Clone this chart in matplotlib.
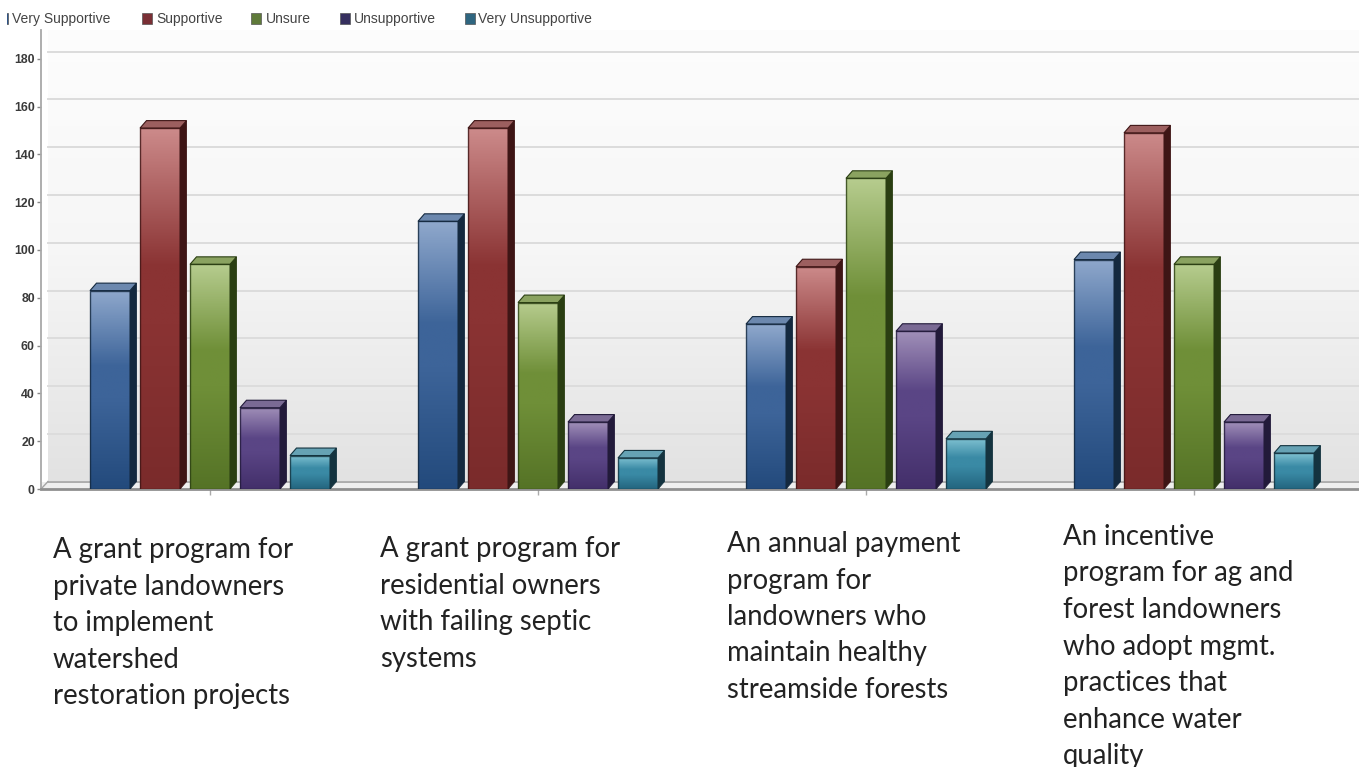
import numpy as np
import matplotlib
matplotlib.use("Agg")
import matplotlib.pyplot as plt
from matplotlib.colors import LinearSegmentedColormap
from matplotlib.patches import Polygon, Rectangle

W, H = 1359, 767

# Survey responses per program
response_levels = ["Very Supportive", "Supportive", "Unsure", "Unsupportive", "Very Unsupportive"]
very_supportive = [83, 112, 69, 96]
supportive = [151, 151, 93, 149]
unsure = [94, 78, 130, 94]
unsupportive = [34, 28, 66, 28]
very_unsupportive = [14, 13, 21, 15]
y_ticks = list(range(0, 200, 20))
program_captions = [
    "A grant program for\nprivate landowners\nto implement\nwatershed\nrestoration projects",
    "A grant program for\nresidential owners\nwith failing septic\nsystems",
    "An annual payment\nprogram for\nlandowners who\nmaintain healthy\nstreamside forests",
    "An incentive\nprogram for ag and\nforest landowners\nwho adopt mgmt.\npractices that\nenhance water\nquality",
]
caption_anchor_px = [(53, 537), (380, 536), (727, 531), (1063, 524)]

# (top, middle, bottom, side, cap, swatch) shades for each response level
palettes = [
    ("#8fa8cc", "#3d6499", "#234a7c", "#14293f", "#6c88ae", "#2f5488"),
    ("#cc8a8a", "#8a3333", "#7a2b2b", "#3e1515", "#9c5f5f", "#7a2f35"),
    ("#b6cc8e", "#6f8f38", "#557326", "#2a3e12", "#8aa260", "#5f7a3a"),
    ("#a08fb8", "#5a4585", "#432f6a", "#221a3a", "#7a6a94", "#36305f"),
    ("#80c2d2", "#3a8aa5", "#23657f", "#14333f", "#66a2b4", "#2f6680"),
]
series = [very_supportive, supportive, unsure, unsupportive, very_unsupportive]

fig = plt.figure(figsize=(W / 100, H / 100), dpi=100, facecolor="white")

# The axes cover the plot box in pixel terms: zero sits on the floor line
px_per_unit = 2.39
ax_left, ax_right, ax_top, ax_bottom = 41, 1359, 30, 489
ax = fig.add_axes([ax_left / W, 1 - ax_bottom / H, (ax_right - ax_left) / W, (ax_bottom - ax_top) / H])
group_px = 328.0
first_center = 210.0
ax.set_xlim((ax_left - first_center) / group_px, (ax_right - first_center) / group_px)
ax.set_ylim(0, (ax_bottom - ax_top) / px_per_unit)
ymax = ax.get_ylim()[1]
xl = ax.get_xlim()

dx = 6.5 / group_px          # depth of the extrusion, horizontal
dy = 7.5 / px_per_unit       # depth of the extrusion, vertical
bar_w = 40.0 / group_px
bar_step = 50.0 / group_px

# Back wall with a soft vertical fade
wall = LinearSegmentedColormap.from_list("wall", ["#fdfdfd", "#f6f6f6", "#e2e2e2"])
ax.imshow(np.linspace(0, 1, 256)[:, None], cmap=wall, aspect="auto", zorder=0,
          extent=(xl[0] + 7 / group_px, xl[1], dy, ymax))
ax.set_xlim(xl)
ax.set_ylim(0, ymax)
ax.add_patch(Rectangle((xl[0], 0), xl[1] - xl[0], dy, fc="#efefef", ec="none", zorder=0.5))

# Gridlines lie on the wall, shifted back by the depth
for v in y_ticks[1:]:
    ax.plot([xl[0] + 7 / group_px, xl[1]], [v + 3.0, v + 3.0], color="#dcdcdc", lw=1.4, zorder=1)
ax.plot([xl[0] + 7 / group_px, xl[1]], [dy, dy], color="#9a9a9a", lw=1.1, zorder=1)
ax.plot([xl[0] + 7 / group_px, xl[0]], [dy, 0], color="#a5a5a5", lw=1.0, zorder=1)


def draw_bar(x0, value, shades):
    top, mid, bottom, side, cap, _ = shades
    cmap = LinearSegmentedColormap.from_list("b", [(0, bottom), (0.45, mid), (0.62, mid), (1, top)])
    face = np.linspace(1, 0, 128)[:, None]
    ax.imshow(face, cmap=cmap, aspect="auto", zorder=3, extent=(x0, x0 + bar_w, 0, value), vmin=0, vmax=1)
    ax.add_patch(Rectangle((x0, 0), bar_w, value, fc="none", ec=side, lw=1.0, alpha=0.8, zorder=4))
    ax.add_patch(Polygon([(x0 + bar_w, 0), (x0 + bar_w + dx, dy), (x0 + bar_w + dx, value + dy), (x0 + bar_w, value)],
                         closed=True, fc=side, ec=side, lw=0.6, zorder=3))
    ax.add_patch(Polygon([(x0, value), (x0 + dx, value + dy), (x0 + bar_w + dx, value + dy), (x0 + bar_w, value)],
                         closed=True, fc=cap, ec=side, lw=0.8, zorder=3))


for s, (vals, shades) in enumerate(zip(series, palettes)):
    for g, v in enumerate(vals):
        draw_bar(g + (s - 2) * bar_step - bar_w / 2, v, shades)
ax.set_xlim(xl)
ax.set_ylim(0, ymax)

for side in ("top", "right"):
    ax.spines[side].set_visible(False)
ax.spines["left"].set_color("#a8a8a8")
ax.spines["left"].set_linewidth(1.3)
ax.spines["bottom"].set_color("#8f8f8f")
ax.spines["bottom"].set_linewidth(2.0)
ax.set_yticks(y_ticks)
ax.set_yticklabels([str(t) for t in y_ticks], fontname="Liberation Sans", fontweight="bold",
                   fontsize=8.8, color="#3a3a3a")
ax.tick_params(axis="y", length=3, width=1, color="#888888", pad=1.5)
ax.set_xticks(range(4))
ax.set_xticklabels([])
ax.tick_params(axis="x", length=4, width=1, color="#aaaaaa")

# Legend row
legend_swatch_x = [2, 142, 251, 340, 465]
legend_text_x = [12, 156, 266, 354, 478]
for i, name in enumerate(response_levels):
    fig.text(legend_text_x[i] / W, 1 - 19 / H, name, fontname="Liberation Sans", fontsize=10,
             color="#444444", va="center", ha="left")
    x = legend_swatch_x[i]
    w = 9.5 if i else 6
    fig.add_artist(Rectangle((x / W, 1 - 24 / H), w / W, 11 / H, transform=fig.transFigure,
                             fc=palettes[i][5], ec="#555555", lw=0.5))
# The first swatch is mostly cut off by the left edge of the panel
fig.add_artist(Rectangle((0, 1 - 27 / H), 6.5 / W, 17 / H, transform=fig.transFigure, fc="white", ec="none"))

# Program descriptions beneath each group
for caption, (px, py) in zip(program_captions, caption_anchor_px):
    fig.text(px / W, 1 - py / H, caption, fontname="Lato", fontsize=19.8, color="#222222",
             va="top", ha="left", linespacing=1.5)

fig.savefig("out.png", dpi=100, facecolor="white")
